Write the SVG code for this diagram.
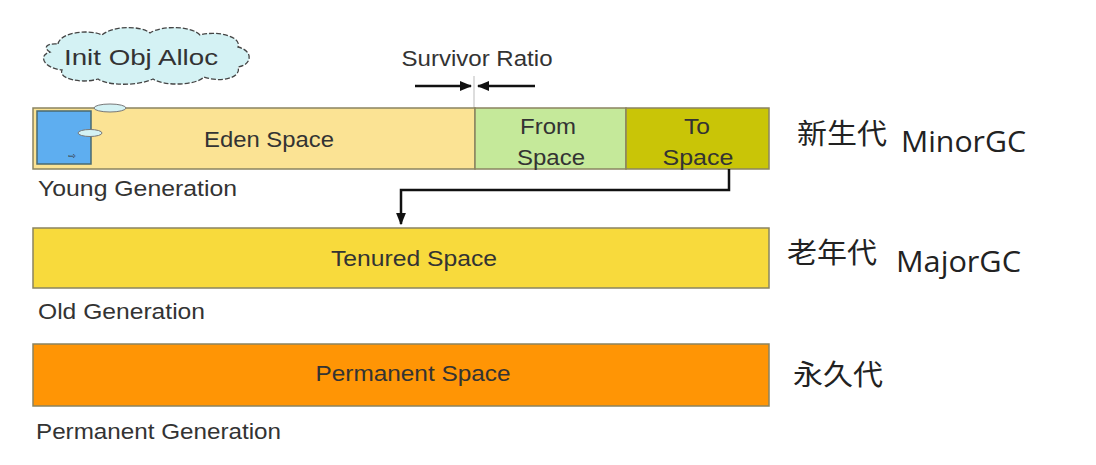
<svg xmlns="http://www.w3.org/2000/svg" width="1096" height="465" viewBox="0 0 1096 465">
<defs>
<style>
.t{font-family:"Liberation Sans",Arial,sans-serif;fill:#333;font-size:22px;}
.c{text-anchor:middle;}
.cjk{font-family:"Noto Sans CJK SC",sans-serif;font-size:28px;fill:#222;}
.gc{font-family:"Open Sans","Noto Sans",sans-serif;font-size:30px;fill:#222;}
.bar{stroke:#8a8460;stroke-width:1.5;}
.conn{fill:none;stroke:#111;stroke-width:2.5;}
</style>
<marker id="ah" viewBox="0 0 10 10" refX="9" refY="5" markerWidth="5" markerHeight="5" orient="auto">
<path d="M0,1 L10,5 L0,9 Z" fill="#111"/>
</marker>
</defs>
<rect width="1096" height="465" fill="#fff"/>

<g id="cloud">
<path d="M58,44 C60,32 90,29 102,35 C112,26 140,25 150,33 C162,25 192,26 200,35 C218,30 242,37 238,47 C254,51 252,65 238,67 C242,78 220,83 204,77 C195,86 163,86 153,79 C138,86 108,86 98,79 C82,84 58,79 62,70 C43,68 38,55 50,52 C42,47 48,43 58,44 Z" fill="#d4f2f4" stroke="#444" stroke-width="1.3" stroke-dasharray="5 2"/>
<text class="t c" x="141" y="65" font-size="23" textLength="154" lengthAdjust="spacingAndGlyphs">Init Obj Alloc</text>
</g>

<g id="survivor-ratio">
<text class="t c" x="477" y="66" font-size="21" textLength="151" lengthAdjust="spacingAndGlyphs">Survivor Ratio</text>
<line x1="474" y1="76" x2="474" y2="108" stroke="#bbb" stroke-width="1"/>
</g>

<g id="young">
<rect id="eden" class="bar" x="33" y="108" width="442" height="61" fill="#fbe394"/>
<rect id="from" class="bar" x="475" y="108" width="151" height="61" fill="#c5e99a"/>
<rect id="to" class="bar" x="626" y="108" width="143" height="61" fill="#c9c507"/>
<rect x="37" y="111" width="54" height="53" fill="#5eaef0" stroke="#4a6a70" stroke-width="1.5"/>
<ellipse cx="110" cy="108" rx="16" ry="4" fill="#d4f2f4" stroke="#777" stroke-width="1"/>
<ellipse cx="90" cy="133" rx="12" ry="3.5" fill="#d4f2f4" stroke="#777" stroke-width="1"/>
<text x="72" y="159" text-anchor="middle" font-family="DejaVu Sans,sans-serif" font-size="9" fill="#333">⇨</text>
<text class="t c" x="269" y="147" textLength="130" lengthAdjust="spacingAndGlyphs">Eden Space</text>
<text class="t c" x="548" y="134" textLength="56" lengthAdjust="spacingAndGlyphs">From</text>
<text class="t c" x="551" y="165" textLength="68" lengthAdjust="spacingAndGlyphs">Space</text>
<text class="t c" x="697" y="134" textLength="26" lengthAdjust="spacingAndGlyphs">To</text>
<text class="t c" x="698" y="165" textLength="71" lengthAdjust="spacingAndGlyphs">Space</text>
<text class="t" x="38" y="196" textLength="199" lengthAdjust="spacingAndGlyphs">Young Generation</text>
</g>

<g id="old">
<rect class="bar" x="33" y="228" width="736" height="60" fill="#f8da3c"/>
<text class="t c" x="414" y="266" textLength="166" lengthAdjust="spacingAndGlyphs">Tenured Space</text>
<text class="t" x="38" y="319" textLength="167" lengthAdjust="spacingAndGlyphs">Old Generation</text>
</g>

<g id="perm">
<rect class="bar" x="33" y="344" width="736" height="62" fill="#ff9505"/>
<text class="t c" x="413" y="381" textLength="195" lengthAdjust="spacingAndGlyphs">Permanent Space</text>
<text class="t" x="36" y="439" textLength="245" lengthAdjust="spacingAndGlyphs">Permanent Generation</text>
</g>

<g id="labels">
<text class="cjk" x="797" y="144" textLength="90" lengthAdjust="spacingAndGlyphs">新生代</text>
<text class="gc" x="901" y="152" textLength="125" lengthAdjust="spacingAndGlyphs">MinorGC</text>
<text class="cjk" x="787" y="263" textLength="90" lengthAdjust="spacingAndGlyphs">老年代</text>
<text class="gc" x="896" y="272" textLength="125" lengthAdjust="spacingAndGlyphs">MajorGC</text>
<text class="cjk" x="793" y="385" textLength="90" lengthAdjust="spacingAndGlyphs">永久代</text>
</g>

<g id="connectors">
<polyline class="conn" points="729,169 729,190 401,190 401,224" marker-end="url(#ah)"/>
<line class="conn" x1="415" y1="86" x2="471" y2="86" marker-end="url(#ah)"/>
<line class="conn" x1="535" y1="86" x2="478" y2="86" marker-end="url(#ah)"/>
</g>
</svg>
